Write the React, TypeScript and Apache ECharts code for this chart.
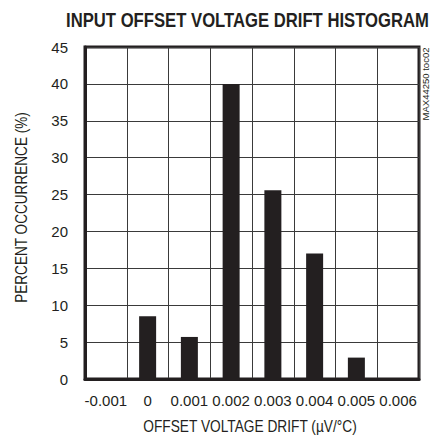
import React, { useEffect, useRef } from "react";
import * as echarts from "echarts";

const categories = ["-0.001", "0", "0.001", "0.002", "0.003", "0.004", "0.005", "0.006"];
const percentOccurrence = [0, 8.5, 5.7, 40, 25.6, 17, 2.9, 0];
const yTicks = { min: 0, max: 45, interval: 5 };

const FONT = "'Liberation Sans', Arial, sans-serif";
const INK = "#231f20";

export default function App() {
  const ref = useRef<HTMLDivElement>(null);
  useEffect(() => {
    if (!ref.current) return;
    const chart = echarts.init(ref.current, null, { renderer: "svg" });
    chart.setOption({
      animation: false,
      backgroundColor: "#fff",
      grid: {
        left: 85,
        right: 19,
        top: 47,
        bottom: 59,
        show: true,
        borderColor: INK,
        borderWidth: 3,
        backgroundColor: "transparent",
      },
      xAxis: {
        type: "category",
        data: categories,
        boundaryGap: true,
        axisLine: { show: true, lineStyle: { color: INK, width: 3 } },
        axisTick: { show: false },
        axisLabel: { color: INK, fontFamily: FONT, fontSize: 15, margin: 14, interval: 0 },
        splitLine: { show: true, lineStyle: { color: "#3a3a3a", width: 1 } },
      },
      yAxis: {
        type: "value",
        min: yTicks.min,
        max: yTicks.max,
        interval: yTicks.interval,
        axisLine: { show: true, lineStyle: { color: INK, width: 3 } },
        axisTick: { show: false },
        axisLabel: { color: INK, fontFamily: FONT, fontSize: 15, margin: 17 },
        splitLine: { show: true, lineStyle: { color: "#3a3a3a", width: 1 } },
      },
      series: [
        {
          type: "bar",
          data: percentOccurrence,
          barWidth: 17,
          itemStyle: { color: INK },
          z: 3,
        },
      ],
      graphic: [
        {
          type: "text",
          x: 247.5,
          y: 20,
          scaleX: 0.794,
          style: {
            text: "INPUT OFFSET VOLTAGE DRIFT HISTOGRAM",
            fontFamily: FONT,
            fontWeight: "bold",
            fontSize: 21,
            fill: INK,
            textAlign: "center",
            textVerticalAlign: "middle",
          },
        },
        {
          type: "text",
          x: 250,
          y: 427,
          scaleX: 0.858,
          style: {
            text: "OFFSET VOLTAGE DRIFT (µV/°C)",
            fontFamily: FONT,
            fontSize: 16,
            fill: INK,
            textAlign: "center",
            textVerticalAlign: "middle",
          },
        },
        {
          type: "text",
          x: 22,
          y: 207.5,
          rotation: Math.PI / 2,
          scaleX: 0.85,
          style: {
            text: "PERCENT OCCURRENCE (%)",
            fontFamily: FONT,
            fontSize: 16,
            fill: INK,
            textAlign: "center",
            textVerticalAlign: "middle",
          },
        },
        {
          type: "text",
          x: 425,
          y: 84,
          rotation: Math.PI / 2,
          style: {
            text: "MAX44250 toc02",
            fontFamily: FONT,
            fontSize: 9.5,
            fill: INK,
            textAlign: "center",
            textVerticalAlign: "middle",
          },
        },
      ],
    });
    return () => chart.dispose();
  }, []);
  return <div ref={ref} style={{ width: 438, height: 438, position: "absolute", left: 0, top: 0 }} />;
}
